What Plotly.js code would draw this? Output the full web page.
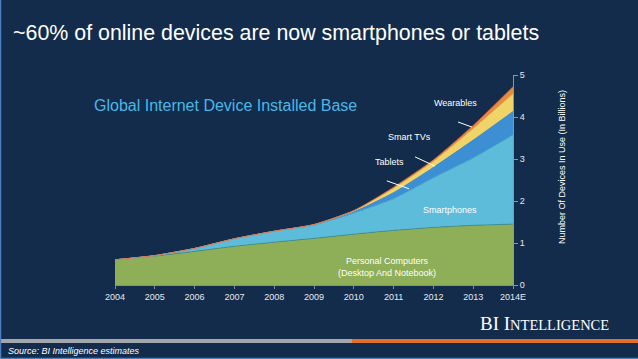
<!DOCTYPE html>
<html>
<head>
<meta charset="utf-8">
<script src="https://cdn.plot.ly/plotly-3.0.1.min.js"></script>
<style>
html,body{margin:0;padding:0;background:#132c4c;}
#chart{width:638px;height:359px;}
</style>
</head>
<body>
<div id="chart"></div>
<script>
const years = [2004, 2005, 2006, 2007, 2008, 2009, 2010, 2011, 2012, 2013, 2014];
const tickLabels = ["2004", "2005", "2006", "2007", "2008", "2009", "2010", "2011", "2012", "2013", "2014E"];
const personalComputers = [0.60, 0.69, 0.80, 0.92, 1.02, 1.11, 1.21, 1.30, 1.37, 1.42, 1.45];
const smartphones = [0.00, 0.01, 0.07, 0.18, 0.26, 0.32, 0.50, 0.75, 1.18, 1.60, 2.12];
const tablets = [0.00, 0.00, 0.00, 0.00, 0.00, 0.00, 0.03, 0.15, 0.25, 0.43, 0.56];
const smartTVs = [0.00, 0.00, 0.00, 0.00, 0.00, 0.01, 0.03, 0.10, 0.14, 0.27, 0.42];
const wearables = [0.00, 0.00, 0.00, 0.00, 0.00, 0.00, 0.00, 0.03, 0.04, 0.08, 0.17];

// plot area geometry in pixels
const W = 638, H = 359, L = 115, R = 125, T = 75, B = 74;
const pw = W - L - R, ph = H - T - B;
const px = v => (v - L) / pw;          // pixel x -> paper x
const py = v => (H - B - v) / ph;      // pixel y -> paper y

function area(name, y, fill, line) {
  return {
    x: years, y: y, name: name, type: 'scatter', mode: 'lines',
    stackgroup: 'one', fillcolor: fill,
    line: {color: line, width: 0.8, shape: 'spline', smoothing: 0.6},
    hoverinfo: 'skip'
  };
}

const data = [
  area('Personal Computers', personalComputers, '#8fae58', '#3f8f8a'),
  area('Smartphones', smartphones, '#5cbcd9', '#5cbcd9'),
  area('Tablets', tablets, '#3d8fd4', '#3d8fd4'),
  area('Smart TVs', smartTVs, '#f0d468', '#f0d468'),
  area('Wearables', wearables, '#e88a3c', '#d85e4a')
];

const white = '#ffffff';
const labelFont = {family: 'Liberation Sans, Arial, sans-serif', size: 9, color: white};

const annotations = [
  {xref: 'paper', yref: 'paper', x: px(11), y: py(33), xanchor: 'left', yanchor: 'middle',
   text: '~60% of online devices are now smartphones or tablets', showarrow: false,
   font: {family: 'Liberation Sans, Arial, sans-serif', size: 21.4, color: white}},
  {xref: 'paper', yref: 'paper', x: px(92), y: py(105), xanchor: 'left', yanchor: 'middle',
   text: 'Global Internet Device Installed Base', showarrow: false,
   font: {family: 'Liberation Sans, Arial, sans-serif', size: 16, color: '#4db6e6'}},
  {xref: 'paper', yref: 'paper', x: px(562), y: py(167), xanchor: 'center', yanchor: 'middle',
   textangle: -90, text: 'Number Of Devices In Use (In Billions)', showarrow: false, font: labelFont},
  {xref: 'x', yref: 'y', x: 2012.55, y: 4.33, text: 'Wearables', showarrow: false, font: labelFont},
  {xref: 'x', yref: 'y', x: 2011.4, y: 3.52, text: 'Smart TVs', showarrow: false, font: labelFont},
  {xref: 'x', yref: 'y', x: 2010.9, y: 2.93, text: 'Tablets', showarrow: false, font: labelFont},
  {xref: 'x', yref: 'y', x: 2012.42, y: 1.79, text: 'Smartphones', showarrow: false, font: labelFont},
  {xref: 'x', yref: 'y', x: 2010.83, y: 0.43, text: 'Personal Computers<br>(Desktop And Notebook)',
   showarrow: false, font: labelFont},
  {xref: 'paper', yref: 'paper', x: px(611), y: py(323), xanchor: 'right', yanchor: 'middle',
   text: 'BI I<span style="font-size:14.5px">NTELLIGENCE</span>', showarrow: false,
   font: {family: 'Liberation Serif, Times New Roman, serif', size: 19, color: white}},
  {xref: 'paper', yref: 'paper', x: px(6), y: py(351), xanchor: 'left', yanchor: 'middle',
   text: '<i>Source: BI Intelligence estimates</i>', showarrow: false,
   font: {family: 'Liberation Sans, Arial, sans-serif', size: 9, color: white}}
];

const shapes = [
  // pointer lines
  {type: 'line', xref: 'x', yref: 'y', x0: 2012.62, y0: 3.88, x1: 2012.97, y1: 3.76, line: {color: white, width: 1}},
  {type: 'line', xref: 'x', yref: 'y', x0: 2011.54, y0: 3.05, x1: 2012.04, y1: 2.83, line: {color: white, width: 1}},
  {type: 'line', xref: 'x', yref: 'y', x0: 2010.83, y0: 2.48, x1: 2011.39, y1: 2.29, line: {color: white, width: 1}},
  // footer bars
  {type: 'rect', xref: 'paper', yref: 'paper', x0: px(0), x1: px(352), y0: py(343), y1: py(339),
   fillcolor: '#a3a7ab', line: {width: 0}},
  {type: 'rect', xref: 'paper', yref: 'paper', x0: px(352), x1: px(638), y0: py(343), y1: py(339),
   fillcolor: '#e0702a', line: {width: 0}},
  // light border
  {type: 'line', xref: 'paper', yref: 'paper', x0: px(0.5), x1: px(0.5), y0: py(0), y1: py(359),
   line: {color: '#4a7fc0', width: 1.5}},
  {type: 'line', xref: 'paper', yref: 'paper', x0: px(0), x1: px(638), y0: py(358.5), y1: py(358.5),
   line: {color: '#4a7fc0', width: 1.5}}
];

const layout = {
  width: W, height: H,
  margin: {l: L, r: R, t: T, b: B, pad: 0},
  paper_bgcolor: '#132c4c', plot_bgcolor: '#132c4c',
  showlegend: false,
  xaxis: {
    range: [2004, 2014], tickmode: 'array', tickvals: years, ticktext: tickLabels,
    ticks: 'outside', ticklen: 3, tickcolor: '#7f8c99', showgrid: false, zeroline: false,
    showline: true, linecolor: '#7f8c99', linewidth: 1,
    tickfont: {family: 'Liberation Sans, Arial, sans-serif', size: 9, color: '#e6e9ee'}
  },
  yaxis: {
    range: [0, 5], side: 'right', tickmode: 'array', tickvals: [0, 1, 2, 3, 4, 5],
    ticks: 'outside', ticklen: 4, tickcolor: '#8a96a3', showgrid: false, zeroline: false,
    showline: true, linecolor: '#8a96a3', linewidth: 1,
    tickfont: {family: 'Liberation Sans, Arial, sans-serif', size: 9, color: '#e6e9ee'}
  },
  annotations: annotations,
  shapes: shapes
};

Plotly.newPlot('chart', data, layout, {displayModeBar: false, staticPlot: true});
</script>
</body>
</html>
